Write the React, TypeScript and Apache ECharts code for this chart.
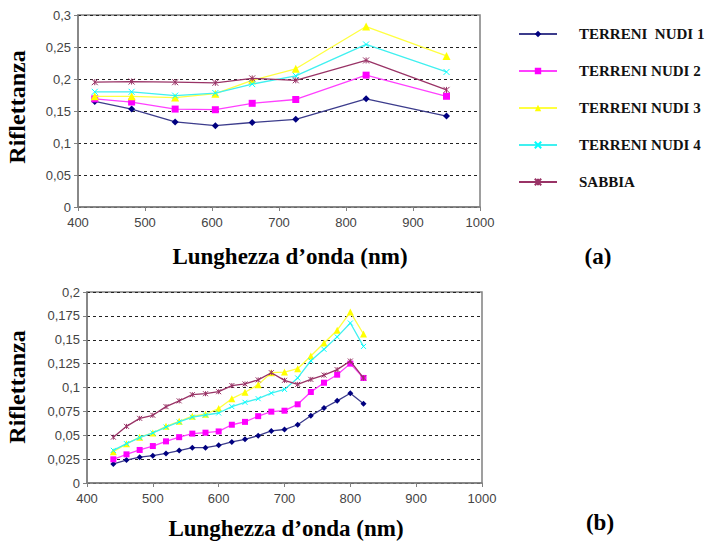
import React, { useEffect, useRef } from "react";
import * as echarts from "echarts";

const seriesNames = ["TERRENI  NUDI 1", "TERRENI NUDI 2", "TERRENI NUDI 3", "TERRENI NUDI 4", "SABBIA"];
const seriesColors = ["#000080", "#FF00FF", "#FFFF00", "#00FFFF", "#993366"];
const lineColors = ["#3c3c8c", "#FF40FF", "#FFFF40", "#40F0F0", "#993366"];

// Chart (a)
const topX = [425, 480, 545, 605, 660, 725, 830, 950];
const topTN1 = [0.165, 0.153, 0.133, 0.127, 0.132, 0.137, 0.169, 0.142];
const topTN2 = [0.169, 0.164, 0.153, 0.152, 0.162, 0.168, 0.206, 0.173];
const topTN3 = [0.173, 0.173, 0.171, 0.177, 0.198, 0.216, 0.282, 0.236];
const topTN4 = [0.18, 0.18, 0.174, 0.178, 0.192, 0.205, 0.254, 0.211];
const topSAB = [0.195, 0.196, 0.195, 0.194, 0.201, 0.198, 0.229, 0.183];

// Chart (b)
const botX = [440, 460, 480, 500, 520, 540, 560, 580, 600, 620, 640, 660, 680, 700, 720, 740, 760, 780, 800, 820];
const botTN1 = [0.020, 0.024, 0.027, 0.0286, 0.031, 0.034, 0.037, 0.037, 0.0394, 0.043, 0.0457, 0.0496, 0.0545, 0.056, 0.061, 0.0705, 0.0785, 0.086, 0.094, 0.083];
const botTN2 = [0.0248, 0.030, 0.0346, 0.0387, 0.0436, 0.048, 0.0517, 0.0527, 0.054, 0.061, 0.064, 0.070, 0.0747, 0.0757, 0.0824, 0.0953, 0.105, 0.1134, 0.125, 0.110];
const botTN3 = [0.0328, 0.041, 0.048, 0.0524, 0.0593, 0.0646, 0.070, 0.072, 0.078, 0.0883, 0.095, 0.103, 0.1155, 0.1162, 0.1197, 0.133, 0.1466, 0.160, 0.179, 0.156];
const botTN4 = [0.0342, 0.0412, 0.0475, 0.0524, 0.0586, 0.0639, 0.069, 0.0712, 0.0733, 0.080, 0.0845, 0.0883, 0.0942, 0.098, 0.110, 0.128, 0.140, 0.153, 0.1675, 0.143];
const botSAB = [0.048, 0.0593, 0.0677, 0.0709, 0.080, 0.086, 0.0925, 0.0935, 0.0956, 0.102, 0.1037, 0.108, 0.1155, 0.1075, 0.1033, 0.1085, 0.113, 0.1187, 0.1277, 0.110];

const crossPath = "path://M0,0L10,10M10,0L0,10";
const starPath = "path://M0,0L10,10M10,0L0,10M5,0L5,10";
const symbols = ["diamond", "rect", "triangle", crossPath, starPath];
const symbolSizesTop = [7, 7, 8, 6, 6];
const symbolSizesBot = [6, 6, 7, 5, 5];

const fmt = (v: number) => String(Number(v.toFixed(3))).replace(".", ",");

export default function App() {
  const ref = useRef<HTMLDivElement>(null);
  useEffect(() => {
    if (!ref.current) return;
    const chart = echarts.init(ref.current, undefined, { renderer: "svg" });
    const topData = [topTN1, topTN2, topTN3, topTN4, topSAB];
    const botData = [botTN1, botTN2, botTN3, botTN4, botSAB];

    const mkSeries = (xs: number[], ys: number[], i: number, gi: number) => {
      const isStroke = i >= 3;
      return {
        type: "line",
        name: seriesNames[i],
        xAxisIndex: gi,
        yAxisIndex: gi,
        data: xs.map((x, k) => [x, ys[k]]),
        symbol: symbols[i],
        symbolSize: gi === 0 ? symbolSizesTop[i] : symbolSizesBot[i],
        showSymbol: true,
        lineStyle: { color: lineColors[i], width: 1.3 },
        itemStyle: isStroke
          ? { color: "rgba(0,0,0,0)", borderColor: seriesColors[i], borderWidth: 1 }
          : { color: seriesColors[i], borderWidth: 0 },
        color: seriesColors[i],
        z: 2 + i,
      };
    };

    const series: any[] = [];
    topData.forEach((d, i) => series.push(mkSeries(topX, d, i, 0)));
    botData.forEach((d, i) => series.push(mkSeries(botX, d, i, 1)));

    const axisLabel = { color: "#444", fontFamily: "Liberation Sans, Arial", fontSize: 13 };
    const axisLine = { show: true, lineStyle: { color: "#808080", width: 1.5 } };
    const axisTick = { show: true, length: 4, lineStyle: { color: "#808080" } };
    const split = { show: true, lineStyle: { color: "#222", type: [3, 3], width: 1 } };

    const mkX = (gi: number) => ({
      type: "value",
      gridIndex: gi,
      min: 400,
      max: 1000,
      interval: 100,
      axisLabel: { ...axisLabel, margin: 9, formatter: (v: number) => String(v) },
      axisLine,
      axisTick,
      splitLine: { show: false },
    });

    const titleFont = "bold 23px 'Liberation Serif', 'Times New Roman', serif";
    const yTitleFont = "bold 24px 'Liberation Serif', 'Times New Roman', serif";

    chart.setOption({
      animation: false,
      backgroundColor: "#fff",
      grid: [
        { left: 78, top: 15, width: 402, height: 192, show: true, borderColor: "#808080", borderWidth: 1.5, backgroundColor: "transparent" },
        { left: 87, top: 292, width: 395, height: 191, show: true, borderColor: "#808080", borderWidth: 1.5, backgroundColor: "transparent" },
      ],
      xAxis: [mkX(0), mkX(1)],
      yAxis: [
        {
          type: "value",
          gridIndex: 0,
          min: 0,
          max: 0.3,
          interval: 0.05,
          axisLabel: { ...axisLabel, formatter: fmt, margin: 7 },
          axisLine,
          axisTick,
          splitLine: split,
        },
        {
          type: "value",
          gridIndex: 1,
          min: 0,
          max: 0.2,
          interval: 0.025,
          axisLabel: { ...axisLabel, formatter: fmt, margin: 7 },
          axisLine,
          axisTick,
          splitLine: split,
        },
      ],
      legend: {
        orient: "vertical",
        left: 513,
        top: 21,
        itemWidth: 38,
        itemHeight: 8,
        itemGap: 21,
        data: seriesNames,
        textStyle: {
          fontFamily: "'Liberation Serif', 'Times New Roman', serif",
          fontWeight: "bold",
          fontSize: 15,
          color: "#111",
          lineHeight: 16,
          padding: [0, 0, 0, 17],
        },
      },
      graphic: [
        { type: "text", x: 17, y: 107, rotation: Math.PI / 2, style: { text: "Riflettanza", font: yTitleFont, fill: "#000", align: "center", verticalAlign: "middle" } },
        { type: "text", x: 17, y: 387, rotation: Math.PI / 2, style: { text: "Riflettanza", font: yTitleFont, fill: "#000", align: "center", verticalAlign: "middle" } },
        { type: "text", x: 290, y: 256, style: { text: "Lunghezza d’onda (nm)", font: titleFont, fill: "#000", align: "center", verticalAlign: "middle" } },
        { type: "text", x: 286, y: 528, style: { text: "Lunghezza d’onda (nm)", font: titleFont, fill: "#000", align: "center", verticalAlign: "middle" } },
        { type: "text", x: 598, y: 256, style: { text: "(a)", font: "bold 23px 'Liberation Serif', serif", fill: "#000", align: "center", verticalAlign: "middle" } },
        { type: "text", x: 600, y: 522, style: { text: "(b)", font: "bold 23px 'Liberation Serif', serif", fill: "#000", align: "center", verticalAlign: "middle" } },
      ],
      series,
    });
    return () => chart.dispose();
  }, []);
  return <div ref={ref} style={{ position: "absolute", left: 0, top: 0, width: 707, height: 546 }} />;
}
